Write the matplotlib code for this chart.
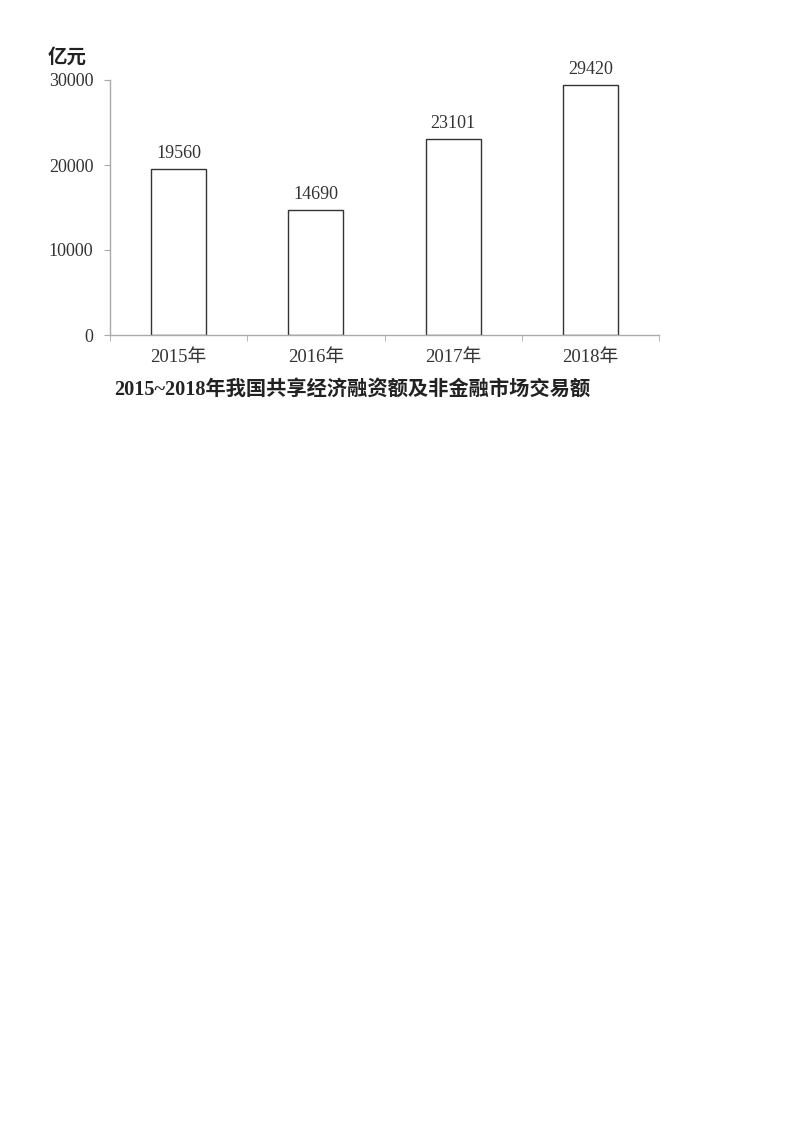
import matplotlib
matplotlib.use("Agg")
import matplotlib.pyplot as plt
from matplotlib.ticker import FixedLocator

categories = ["2015年", "2016年", "2017年", "2018年"]
values = [19560, 14690, 23101, 29420]
value_labels = ["19560", "14690", "23101", "29420"]
yticks = [0, 10000, 20000, 30000]
ylabel = "亿元"
title = "2015~2018年我国共享经济融资额及非金融市场交易额"

fam = ["Liberation Serif", "Noto Sans CJK SC", "DejaVu Sans"]
plt.rcParams["font.family"] = fam

fig = plt.figure(figsize=(8, 11.32), dpi=100)
ax = fig.add_axes([0.1375, 1 - 335 / 1132, 0.68625, 255 / 1132])

x = list(range(len(categories)))
ax.bar(x, values, width=0.4, color="white", edgecolor="#333333", linewidth=1.0)
for xi, v, lab in zip(x, values, value_labels):
    ax.annotate(lab, (xi, v), xytext=(0, 5), textcoords="offset points",
                ha="center", va="bottom", fontsize=13, color="#333333")

ax.set_xlim(-0.5, len(categories) - 0.5)
ax.set_ylim(0, 30000)
ax.set_yticks(yticks)
ax.set_yticklabels([str(t) for t in yticks], fontsize=13, color="#333333")
ax.set_xticks(x)
ax.set_xticklabels(categories, fontsize=13.5, color="#333333")
ax.tick_params(axis="x", which="major", length=0, pad=10)
ax.xaxis.set_minor_locator(FixedLocator([i - 0.5 for i in range(len(categories) + 1)]))
ax.tick_params(axis="x", which="minor", length=4, color="#aaaaaa", direction="out")
ax.tick_params(axis="y", length=4, color="#aaaaaa", direction="out", pad=8)

for s in ["top", "right"]:
    ax.spines[s].set_visible(False)
for s in ["left", "bottom"]:
    ax.spines[s].set_color("#aaaaaa")
    ax.spines[s].set_linewidth(1.0)

fig.text(48 / 800, 1 - 57 / 1132, ylabel, fontsize=14, fontweight="bold",
         ha="left", va="center", color="#222222")
fig.text(352 / 800, 1 - 390 / 1132, title, fontsize=14.6, fontweight="bold",
         ha="center", va="center", color="#222222")

fig.savefig("out.png", dpi=100, facecolor="white")
